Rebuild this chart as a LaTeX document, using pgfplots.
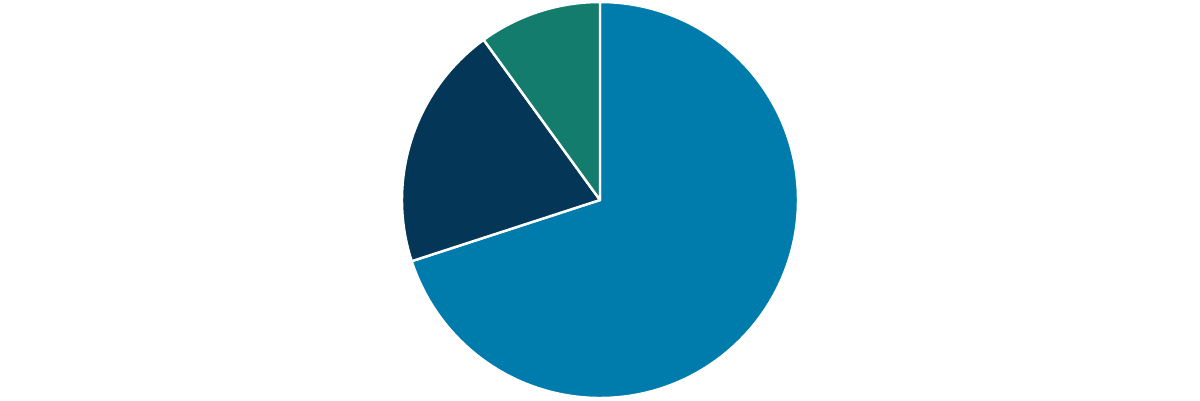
\documentclass[border=0pt]{standalone}
\usepackage{pgfplots}
\usepackage{pgfplotstable}
\pgfplotsset{compat=1.18}
\definecolor{pieblue}{RGB}{0,124,172}
\definecolor{pienavy}{RGB}{3,54,87}
\definecolor{piegreen}{RGB}{20,124,108}

\pgfplotstableread{
share
70
20
10
}\piedata

\begin{document}
\begin{tikzpicture}
\begin{axis}[
  hide axis,
  scale only axis,
  x=2cm, y=2cm,
  xmin=-3, xmax=3, ymin=-1, ymax=1,
  clip=false,
]
% keep the full 1200x400 frame in the bounding box
\path (rel axis cs:0,0) (rel axis cs:1,1);
\def\startang{90}
\pgfplotsforeachungrouped \i in {0,1,2}{%
  \pgfplotstablegetelem{\i}{share}\of\piedata
  \pgfmathsetmacro\endang{\startang-3.6*\pgfplotsretval}%
  \edef\temp{\noexpand\fill[\ifcase\i pieblue\or pienavy\else piegreen\fi, draw=white, line width=0.7pt, line join=round]
    (axis cs:0,0) -- (axis cs:{0.99*cos(\startang)},{0.99*sin(\startang)})
    arc[start angle=\startang, end angle=\endang, radius=1.98cm] -- cycle;}%
  \temp
  \global\let\startang\endang
}
\end{axis}
\end{tikzpicture}
\end{document}
